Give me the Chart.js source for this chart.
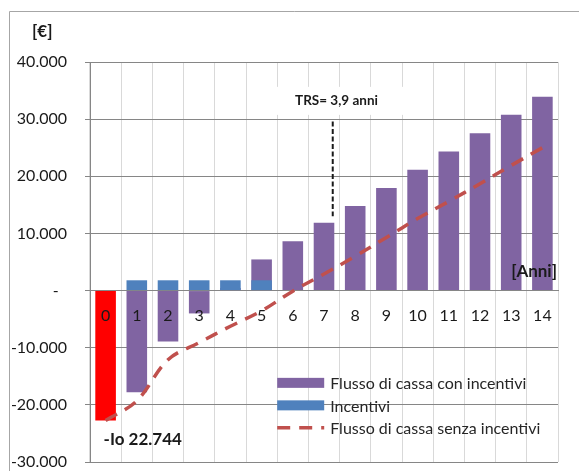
<!DOCTYPE html>
<html lang="it">
<head>
<meta charset="utf-8">
<title>Flusso di cassa</title>
<script src="https://cdn.jsdelivr.net/npm/chart.js@4.4.1/dist/chart.umd.min.js"></script>
<style>
  html, body { margin: 0; padding: 0; background: #fff; }
  #contenitore { width: 579px; height: 471px; position: relative; }
</style>
</head>
<body>
<div id="contenitore"><canvas id="flussoChart"></canvas></div>
<script>

/* DATI */

const anni = ['0', '1', '2', '3', '4', '5', '6', '7', '8', '9', '10', '11', '12', '13', '14'];

const flussoConIncentivi = [-22744, -17800, -8900, -4000, 450, 5450, 8650, 11850, 14800, 17950, 21150, 24350, 27550, 30750, 33900];

const incentivi = [null, 1800, 1800, 1800, 1800, 1800, null, null, null, null, null, null, null, null, null];

const flussoSenzaIncentivi = [-22744, -19300, -12100, -9100, -6250, -3550, -100, 2900, 6000, 9300, 12600, 15600, 18700, 21900, 25000];

const etichetteAsse = { valuta: '[€]', tempo: '[Anni]', investimento: '-Io 22.744', trs: 'TRS= 3,9 anni' };

const scalaY = { min: -30000, max: 40000, passo: 10000 };

/* COLORI */

const viola = '#8064a2';
const blu = '#4f81bd';
const rosso = '#ff0000';
const rossoLinea = '#c0504d';
const grigioScuro = '#868686';
const grigioChiaro = '#d9d9d9';
const font = 'Lato, "Liberation Sans", sans-serif';

function formatoEuro(v){
    if (v === 0) return '-  ';
    let s = String(Math.abs(v)).replace(/\B(?=(\d{3})+(?!\d))/g, '.');
    return (v < 0 ? '-' : '') + s;
}

/* PLUGIN: cornice, annotazioni, legenda */

const decorazioni = {

    id: 'decorazioni',

    beforeDraw(chart){
        let c = chart.ctx;
        c.save();
        c.fillStyle = '#ffffff';
        c.fillRect(0, 0, chart.width, chart.height);
        c.strokeStyle = '#a6a6a6';
        c.lineWidth = 1;
        c.beginPath();
        c.moveTo(9.5, chart.height);
        c.lineTo(9.5, 11.5);
        c.lineTo(chart.width, 11.5);
        c.stroke();
        c.restore();
    },

    beforeDatasetsDraw(chart){
        // riquadro bianco dietro la scritta TRS
        let c = chart.ctx;
        let x = chart.scales.x.getPixelForValue(7.4);
        let y = chart.scales.y.getPixelForValue(33200);
        c.save();
        c.font = 'bold 13.5px ' + font;
        let w = c.measureText(etichetteAsse.trs).width + 56;
        c.fillStyle = '#ffffff';
        c.fillRect(x - w / 2, y - 14, w, 28);
        c.restore();
    },

    afterDatasetsDraw(chart){
        let c = chart.ctx;
        let sx = chart.scales.x;
        let sy = chart.scales.y;
        let area = chart.chartArea;

        c.save();
        c.fillStyle = '#1a1a1a';
        c.textBaseline = 'middle';

        // etichette in grassetto
        c.font = 'bold 13.5px ' + font;
        c.textAlign = 'center';
        c.fillText(etichetteAsse.trs, sx.getPixelForValue(7.4), sy.getPixelForValue(33200));

        c.font = 'bold 17px ' + font;
        c.textAlign = 'left';
        c.fillText(etichetteAsse.valuta, 32, 32);
        c.fillText(etichetteAsse.investimento, sx.getPixelForValue(0) - 2, sy.getPixelForValue(-26100));

        c.textAlign = 'right';
        c.fillText(etichetteAsse.tempo, area.right - 1, sy.getPixelForValue(3400));

        // linea tratteggiata TRS
        c.strokeStyle = '#1a1a1a';
        c.lineWidth = 2;
        c.setLineDash([5, 2.5]);
        c.beginPath();
        c.moveTo(sx.getPixelForValue(7.28), sy.getPixelForValue(29600));
        c.lineTo(sx.getPixelForValue(7.28), sy.getPixelForValue(13000));
        c.stroke();
        c.setLineDash([]);

        // legenda
        let left = sx.getPixelForValue(5.5);
        let top = sy.getPixelForValue(-16150);
        c.font = '16px ' + font;
        c.textAlign = 'left';
        chart.data.datasets.forEach((ds, i) => {
            let y = top + i * 22.5;
            if (ds.type === 'line') {
                c.strokeStyle = ds.borderColor;
                c.lineWidth = ds.borderWidth;
                c.setLineDash(ds.borderDash);
                c.beginPath();
                c.moveTo(left, y);
                c.lineTo(left + 47, y);
                c.stroke();
                c.setLineDash([]);
            } else {
                c.fillStyle = ds.legendColor;
                c.fillRect(left, y - 5, 47, 10);
            }
            c.fillStyle = '#262626';
            c.fillText(ds.label, left + 53, y + 1);
        });

        c.restore();
    }
};

/* GRAFICO */

new Chart(document.getElementById('flussoChart'), {

    type: 'bar',

    data: {
        labels: anni,
        datasets: [
            {
                label: 'Flusso di cassa con incentivi',
                data: flussoConIncentivi,
                backgroundColor: ctx => ctx.dataIndex === 0 ? rosso : viola,
                legendColor: viola,
                grouped: false,
                order: 3
            },
            {
                label: 'Incentivi',
                data: incentivi,
                backgroundColor: blu,
                legendColor: blu,
                grouped: false,
                order: 2
            },
            {
                type: 'line',
                label: 'Flusso di cassa senza incentivi',
                data: flussoSenzaIncentivi,
                borderColor: rossoLinea,
                borderWidth: 3.5,
                borderDash: [13, 9],
                borderCapStyle: 'butt',
                tension: 0.35,
                pointRadius: 0,
                fill: false,
                order: 1
            }
        ]
    },

    options: {
        responsive: true,
        maintainAspectRatio: false,
        animation: false,
        categoryPercentage: 1,
        barPercentage: 0.66,
        layout: {
            padding: { left: 10, top: 62, right: 21, bottom: 9 }
        },
        plugins: {
            legend: { display: false },
            tooltip: { enabled: false }
        },
        scales: {
            x: {
                position: { y: 0 },
                offset: true,
                afterFit: s => { s.height = 0; },
                grid: { color: grigioChiaro, offset: true, drawTicks: false },
                border: { color: grigioScuro },
                ticks: {
                    color: '#1a1a1a',
                    font: { family: font, size: 16 },
                    padding: 16,
                    maxRotation: 0,
                    autoSkip: false,
                    z: 1
                }
            },
            y: {
                min: scalaY.min,
                max: scalaY.max,
                grid: { color: grigioScuro, tickLength: 5 },
                border: { color: grigioScuro },
                afterFit: s => { s.width = 80; s.paddingTop = 0; s.paddingBottom = 0; },
                ticks: {
                    stepSize: scalaY.passo,
                    color: '#1a1a1a',
                    font: { family: font, size: 16 },
                    padding: 18,
                    callback: v => formatoEuro(v)
                }
            }
        }
    },

    plugins: [decorazioni]

});

</script>
</body>
</html>
